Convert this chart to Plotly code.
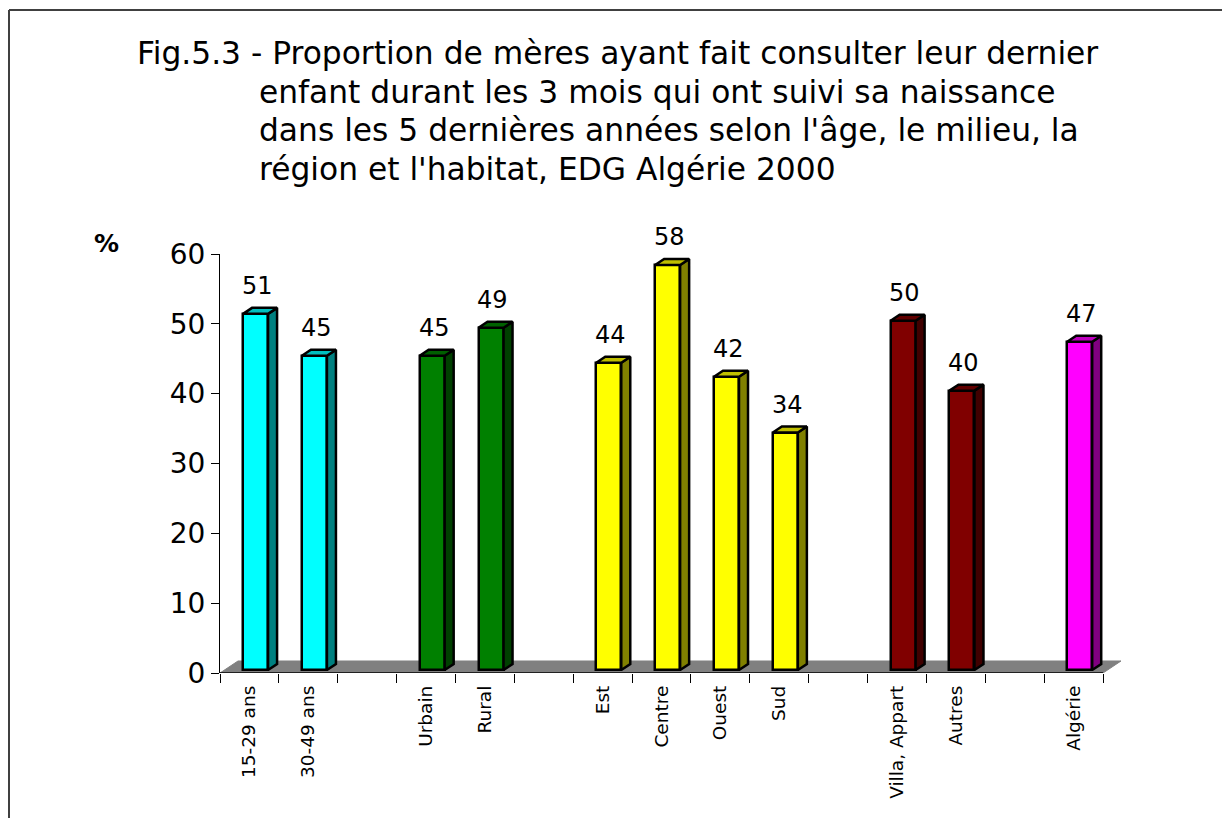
import plotly.graph_objects as go

# ---------------- data ----------------
categories = ["15-29 ans", "30-49 ans", "Urbain", "Rural", "Est", "Centre",
              "Ouest", "Sud", "Villa, Appart", "Autres", "Algérie"]
values = [51, 45, 45, 49, 44, 58, 42, 34, 50, 40, 47]
groups = ["Age", "Age", "Milieu", "Milieu", "Région", "Région", "Région",
          "Région", "Habitat", "Habitat", "Total"]
y_ticks = [0, 10, 20, 30, 40, 50, 60]

group_front = {"Age": "#00FFFF", "Milieu": "#008000", "Région": "#FFFF00",
               "Habitat": "#800000", "Total": "#FF00FF"}
group_top = {"Age": "#00BFBF", "Milieu": "#006000", "Région": "#BFBF00",
             "Habitat": "#600000", "Total": "#BF00BF"}
group_side = {"Age": "#008080", "Milieu": "#004000", "Région": "#808000",
              "Habitat": "#400000", "Total": "#800080"}

title_lines = [
    "Fig.5.3 - Proportion de mères ayant fait consulter leur dernier",
    "enfant durant les 3 mois qui ont suivi sa naissance",
    "dans les 5 dernières années selon l'âge, le milieu, la",
    "région et l'habitat, EDG Algérie 2000",
]

# ---------------- positions (one empty slot between groups) ----------------
pos = []
p = -1
prev = None
for g in groups:
    p += 1
    if prev is not None and g != prev:
        p += 1
    pos.append(p)
    prev = g
n_slots = pos[-1] + 1

# ---------------- geometry ----------------
OFF = 8                     # page offset of the figure (body margin)
W, H = 1230 - OFF, 818 - OFF
ML, MT = 220 - OFF, 254 - OFF
MR = W - (1125 - OFF)
MB = H - (673 - OFF)
PW, PH = W - ML - MR, H - MT - MB
slot_px = 58.87
x_lo = -0.5
x_hi = n_slots - 0.5 + 22 / slot_px
BW = 0.425        # bar width (slots)
SHIFT = 0.104     # front face shift
FDY = 0.43        # front face lift (value units)
DDX, DDY = 0.153, 0.86   # bar depth
FLX, FLY = 0.306, 1.72   # floor depth

FONT = "DejaVu Sans, Verdana, sans-serif"

fig = go.Figure()

# front faces
fig.add_trace(go.Bar(
    x=[q + SHIFT for q in pos], y=values, base=FDY, width=BW,
    marker=dict(color=[group_front[g] for g in groups],
                line=dict(color="black", width=2.5)),
    hoverinfo="skip", showlegend=False))

# side and top faces + value labels
for q, v, g in zip(pos, values, groups):
    xl = q + SHIFT - BW / 2
    xr = q + SHIFT + BW / 2
    yt = FDY + v
    fig.add_trace(go.Scatter(
        x=[xr, xr + DDX, xr + DDX, xr, xr],
        y=[FDY, FDY + DDY, yt + DDY, yt, FDY],
        fill="toself", fillcolor=group_side[g], mode="lines",
        line=dict(color="black", width=2.5), hoverinfo="skip", showlegend=False))
    fig.add_trace(go.Scatter(
        x=[xl, xl + DDX, xr + DDX, xr, xl],
        y=[yt, yt + DDY, yt + DDY, yt, yt],
        fill="toself", fillcolor=group_top[g], mode="lines",
        line=dict(color="black", width=2.5), hoverinfo="skip", showlegend=False))
    fig.add_annotation(x=q + 0.136, y=yt + DDY, text=str(v), showarrow=False,
                       yanchor="bottom", yshift=6,
                       font=dict(family=FONT, size=24, color="black"))

# floor
x0, x1 = -0.5, n_slots - 0.5
fig.add_shape(type="path", xref="x", yref="y", layer="below",
              path=f"M {x0},0 L {x1},0 L {x1 + FLX},{FLY} L {x0 + FLX},{FLY} Z",
              fillcolor="#808080", line=dict(color="#808080", width=1))
fig.add_shape(type="line", xref="x", yref="y", layer="below",
              x0=x0, x1=x1, y0=0, y1=0, line=dict(color="black", width=1.5))


def px_x(px):   # page pixel -> paper x
    return (px - OFF - ML) / PW


def px_y(py):   # page pixel -> paper y
    return (H - MB - (py - OFF)) / PH


title_x = [135, 257, 257, 257]
title_base = [64, 103, 142, 181]
for t, xx, yb in zip(title_lines, title_x, title_base):
    fig.add_annotation(xref="paper", yref="paper", x=px_x(xx), y=px_y(yb + 8.5),
                       text=t, showarrow=False, xanchor="left", yanchor="bottom",
                       font=dict(family=FONT, size=31.3, color="black"))

fig.add_annotation(xref="paper", yref="paper", x=px_x(106), y=px_y(243),
                   text="<b>%</b>", showarrow=False, xanchor="center", yanchor="middle",
                   font=dict(family=FONT, size=25, color="black"))

# frame (left and top edges)
fig.add_shape(type="line", xref="paper", yref="paper",
              x0=px_x(OFF + 1), x1=px_x(OFF + 1), y0=px_y(10), y1=px_y(830),
              line=dict(color="#404040", width=2))
fig.add_shape(type="line", xref="paper", yref="paper",
              x0=px_x(OFF + 1), x1=px_x(1240), y0=px_y(10), y1=px_y(10),
              line=dict(color="#404040", width=2))

fig.update_layout(
    width=W, height=H,
    margin=dict(l=ML, r=MR, t=MT, b=MB, pad=0),
    paper_bgcolor="white", plot_bgcolor="white",
    bargap=0, showlegend=False,
    font=dict(family=FONT, color="black"),
    xaxis=dict(range=[x_lo, x_hi], showgrid=False, zeroline=False, showline=False,
               tickmode="array", tickvals=pos, ticktext=categories,
               tickangle=-90, ticks="", ticklabelstandoff=8,
               tickfont=dict(family=FONT, size=18.5, color="black"),
               minor=dict(ticks="outside", ticklen=9, tickcolor="black", tickwidth=1,
                          tickmode="array",
                          tickvals=[k - 0.5 for k in range(n_slots + 1)],
                          showgrid=False)),
    yaxis=dict(range=[0, 60], showgrid=False, zeroline=False, showline=True,
               linecolor="black", linewidth=1,
               tickmode="array", tickvals=y_ticks, ticks="outside", ticklen=8,
               tickcolor="black", tickfont=dict(family=FONT, size=28, color="black")),
)

fig.write_html("out.html")
